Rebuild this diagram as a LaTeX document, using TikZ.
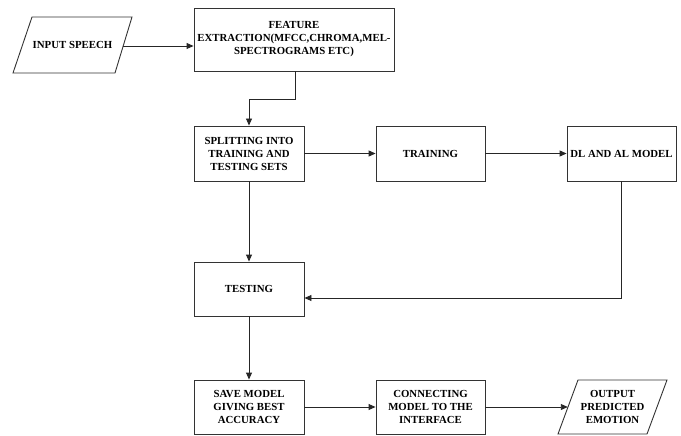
\documentclass[tikz,border=0pt]{standalone}
\usepackage{fontspec}
\setmainfont{Liberation Serif}
\usetikzlibrary{arrows.meta,calc}
\begin{document}
\begin{tikzpicture}[x=1pt,y=-1pt,
  box/.style={draw=black!80,line width=0.9pt,fill=white,align=center,inner sep=1pt,
    font=\fontsize{10.8}{13}\selectfont\bfseries},
  lbl/.style={align=center,inner sep=0pt,font=\fontsize{10.8}{13}\selectfont\bfseries},
  conn/.style={draw=black!85,line width=0.9pt,-{Triangle[length=7pt,width=6pt]}},
  shp/.style={draw=black!80,line width=0.9pt,line join=miter}]
\useasboundingbox (0,0) rectangle (681,436);
% input parallelogram
\draw[shp] (32,17) -- (132,17) -- (115,73) -- (13,73) -- cycle;
\node[lbl,minimum width=101pt,minimum height=56pt] (in) at (72.5,45) {INPUT SPEECH};
% output parallelogram
\draw[shp] (578,380) -- (667,380) -- (647,434) -- (558,434) -- cycle;
\node[lbl,minimum width=89pt,minimum height=54pt] (out) at (612.5,407) {OUTPUT\\PREDICTED\\EMOTION};
% boxes
\node[box,minimum width=200pt,minimum height=63pt] (feat) at (294,39.5) {FEATURE\\EXTRACTION(MFCC,CHROMA,MEL-\\SPECTROGRAMS ETC)};
\node[box,minimum width=110pt,minimum height=55pt] (split) at (249,153.5) {SPLITTING INTO\\TRAINING AND\\TESTING SETS};
\node[box,minimum width=109pt,minimum height=55pt] (train) at (430.5,153.5) {TRAINING};
\node[box,minimum width=109pt,minimum height=55pt] (dl) at (621.5,153.5) {DL AND AL MODEL};
\node[box,minimum width=110pt,minimum height=54pt] (test) at (249,289) {TESTING};
\node[box,minimum width=110pt,minimum height=54pt] (save) at (249,407) {SAVE MODEL\\GIVING BEST\\ACCURACY};
\node[box,minimum width=109pt,minimum height=54pt] (cm) at (430.5,407) {CONNECTING\\MODEL TO THE\\INTERFACE};
% connectors
\draw[conn] ([yshift=-1pt]in.east) -- ([yshift=-1pt]in.east -| feat.west);
\coordinate (b1) at ($(feat.south)+(1,28)$);
\draw[conn] ([xshift=1pt]feat.south) -- (b1) -| (split.north);
\draw[conn] (split) -- (train);
\draw[conn] (train) -- (dl);
\draw[conn] (split) -- (test);
\coordinate (t1) at ($(test.east)+(0,9)$);
\draw[conn] (dl.south) |- (t1);
\draw[conn] (test) -- (save);
\draw[conn] (save) -- (cm);
\draw[conn] (cm.east) -- (cm.east -| out.west);
\end{tikzpicture}
\end{document}
